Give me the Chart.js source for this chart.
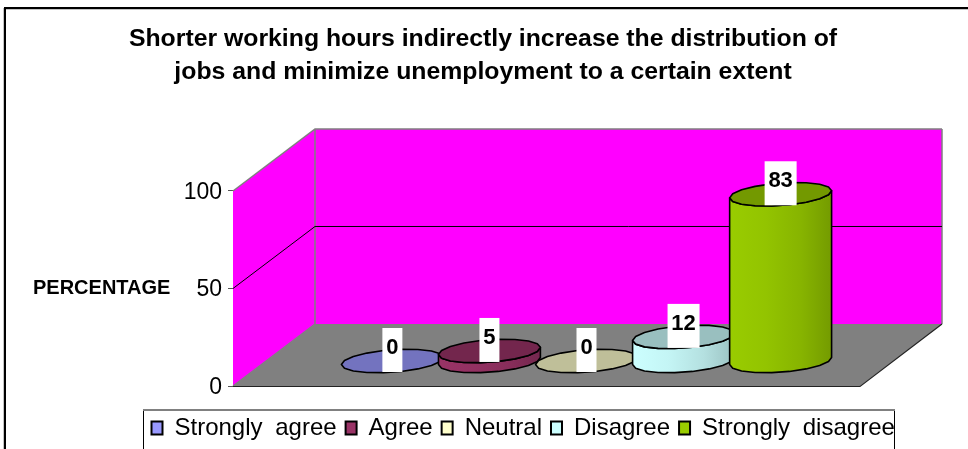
<!DOCTYPE html>
<html><head><meta charset="utf-8">
<style>html,body{margin:0;padding:0;background:#fff;overflow:hidden}canvas{display:block}</style>
<script src="https://cdn.jsdelivr.net/npm/chart.js@4"></script>
</head><body><canvas id="c" width="968" height="449"></canvas>
<script>
const categories = ["Response"];
const seriesNames = ["Strongly agree","Agree","Neutral","Disagree","Strongly disagree"];
const seriesValues = [0,5,0,12,83];
const seriesColors = ["#9999ff","#993366","#ffffcc","#ccffff","#99cc00"];
const yTicks = [0,50,100];
const titleLines = ["Shorter working hours indirectly increase the distribution of","jobs and minimize unemployment to a certain extent"];
const yAxisLabel = "PERCENTAGE";

const FONT = '"Liberation Sans", Arial, sans-serif';
const DEPTH = {x:82,y:-62};
const CYL = {shiftX:40, baseY:25, ratio:0.19, stretch:1.03, N:18};
const LEGEND_WORD_GAP = "6px";

function shade(hex,f){
  const n=parseInt(hex.slice(1),16);
  return `rgb(${Math.round((n>>16&255)*f)},${Math.round((n>>8&255)*f)},${Math.round((n&255)*f)})`;
}
function ringPt(cx,cy,A,B,C,t){return [cx+A*Math.cos(t)+B*Math.sin(t), cy-C*Math.sin(t)];}

function cylGeom(chart,i){
  const el=chart.getDatasetMeta(i).data[0];
  const y0=chart.scales.y.getPixelForValue(0);
  const h=(y0-el.y)*CYL.stretch;
  return {cx:el.x+CYL.shiftX, by:y0-CYL.baseY, h, A:el.width/2, B:DEPTH.x*CYL.ratio, C:-DEPTH.y*CYL.ratio};
}
function drawCylinder(chart,i){
  const ctx=chart.ctx,g=cylGeom(chart,i),col=seriesColors[i];
  const {cx,by,h,A,B,C}=g, ty=by-h, a0=Math.atan2(B,A), R=Math.hypot(A,B);
  ctx.save();
  ctx.lineWidth=1.6;ctx.strokeStyle="#000";ctx.lineJoin="round";
  if(h>0.5){
    const gr=ctx.createLinearGradient(cx-R,0,cx+R,0);
    gr.addColorStop(0,shade(col,1));gr.addColorStop(.35,shade(col,.96));
    gr.addColorStop(.7,shade(col,.88));gr.addColorStop(1,shade(col,.76));
    ctx.beginPath();
    for(let k=0;k<=CYL.N/2;k++){
      const t=Math.PI+a0+k*(2*Math.PI/CYL.N);
      const p=ringPt(cx,by,A,B,C,t);k?ctx.lineTo(p[0],p[1]):ctx.moveTo(p[0],p[1]);
    }
    for(let k=CYL.N/2;k>=0;k--){
      const t=Math.PI+a0+k*(2*Math.PI/CYL.N);
      const p=ringPt(cx,ty,A,B,C,t);ctx.lineTo(p[0],p[1]);
    }
    ctx.closePath();ctx.fillStyle=gr;ctx.fill();ctx.stroke();
  }
  ctx.beginPath();
  for(let k=0;k<CYL.N;k++){
    const t=a0+k*(2*Math.PI/CYL.N);
    const p=ringPt(cx,ty,A,B,C,t);k?ctx.lineTo(p[0],p[1]):ctx.moveTo(p[0],p[1]);
  }
  ctx.closePath();ctx.fillStyle=shade(col,.75);ctx.fill();ctx.stroke();
  ctx.restore();
}
const scenePlugin={
  id:"scene",
  beforeLayout(chart){chart.ctx.wordSpacing=LEGEND_WORD_GAP;},
  afterLayout(chart){
    chart.ctx.wordSpacing="0px";
    const lg=chart.legend;
    lg.left=142.5;lg.right=968;lg.top=407;
    chart.titleBlock.left=0;chart.titleBlock.right=966;
    if(!lg._wrapped){
      const orig=lg.draw.bind(lg);
      lg.draw=function(a){chart.ctx.save();chart.ctx.wordSpacing=LEGEND_WORD_GAP;orig(a);chart.ctx.restore();};
      lg._wrapped=true;
    }
  },
  beforeDraw(chart){
    const ctx=chart.ctx;
    ctx.save();
    ctx.fillStyle="#fff";ctx.fillRect(0,0,968,449);
    ctx.fillStyle="#c4c4c4";
    ctx.fillRect(3,8,1,441);ctx.fillRect(6,9,962,1);
    ctx.fillStyle="#000";
    ctx.fillRect(4,7,2,442);ctx.fillRect(4,7,964,2);
    // legend frame
    ctx.fillRect(143,410,1,39);ctx.fillRect(894,410,1,39);
    ctx.fillStyle="#808080";ctx.fillRect(143,409,752,2);
    ctx.restore();
  },
  beforeDatasetsDraw(chart){
    const ctx=chart.ctx,{left:l,right:r}=chart.chartArea,ys=chart.scales.y;
    const y0=ys.getPixelForValue(yTicks[0]),yT=ys.getPixelForValue(yTicks[yTicks.length-1]);
    const dx=DEPTH.x,dy=DEPTH.y;
    ctx.save();
    // floor
    ctx.fillStyle="#808080";
    ctx.beginPath();ctx.moveTo(l,y0);ctx.lineTo(r,y0);ctx.lineTo(r+dx,y0+dy);ctx.lineTo(l+dx,y0+dy);ctx.closePath();ctx.fill();
    // walls
    ctx.fillStyle="#ff00ff";
    ctx.fillRect(l+dx,yT+dy,r-l,y0-yT);
    ctx.beginPath();ctx.moveTo(l,yT);ctx.lineTo(l+dx,yT+dy);ctx.lineTo(l+dx,y0+dy);ctx.lineTo(l,y0);ctx.closePath();ctx.fill();
    // wall edges
    ctx.strokeStyle="#808080";ctx.lineWidth=1.5;
    ctx.beginPath();
    ctx.moveTo(l,yT);ctx.lineTo(l+dx,yT+dy);ctx.lineTo(r+dx,yT+dy);
    ctx.moveTo(l+dx,yT+dy);ctx.lineTo(l+dx,y0+dy);
    ctx.moveTo(l,y0);ctx.lineTo(l+dx,y0+dy);
    ctx.moveTo(r+dx,yT+dy);ctx.lineTo(r+dx,y0+dy);
    ctx.stroke();
    // gridlines
    ctx.strokeStyle="#000";ctx.lineWidth=1;
    yTicks.slice(1,-1).forEach(v=>{
      const y=ys.getPixelForValue(v);
      ctx.beginPath();ctx.moveTo(l,y);ctx.lineTo(l+dx,y+dy);ctx.lineTo(r+dx,y+dy);ctx.stroke();
    });
    // front floor edges
    ctx.strokeStyle="#222";ctx.lineWidth=1.2;
    ctx.beginPath();ctx.moveTo(l,y0+.5);ctx.lineTo(r,y0+.5);ctx.lineTo(r+dx,y0+dy);ctx.stroke();
    ctx.restore();
    seriesValues.forEach((_,i)=>drawCylinder(chart,i));
  },
  beforeDatasetDraw(){return false;},
  afterDatasetsDraw(chart){
    const ctx=chart.ctx;
    ctx.save();
    ctx.textAlign="center";ctx.textBaseline="middle";
    ctx.font="bold 22px "+FONT;
    seriesValues.forEach((v,i)=>{
      const g=cylGeom(chart,i),s=String(v),w=s.length>1?32:20,cy=g.by-g.h-11;
      ctx.fillStyle="#fff";ctx.fillRect(g.cx-w/2,cy-22,w,44);
      ctx.fillStyle="#000";ctx.fillText(s,g.cx,cy-2);
    });
    ctx.font="bold 20px "+FONT;ctx.textAlign="left";
    ctx.fillText(yAxisLabel,33,chart.scales.y.getPixelForValue(50));
    ctx.restore();
  }
};

new Chart(document.getElementById("c"),{
  type:"bar",
  data:{labels:categories,datasets:seriesNames.map((n,i)=>({
    label:n,data:[seriesValues[i]],backgroundColor:seriesColors[i],borderColor:"#000",borderWidth:2,
    barPercentage:1,categoryPercentage:0.774
  }))},
  options:{
    responsive:false,animation:false,
    layout:{padding:{left:0,right:108,top:0,bottom:0}},
    plugins:{
      tooltip:{enabled:false},
      title:{display:true,text:titleLines,color:"#000",font:{family:FONT,size:24.8,weight:"bold",lineHeight:1.31},padding:{top:23,bottom:103}},
      legend:{display:true,position:"bottom",align:"start",
        labels:{color:"#000",font:{family:FONT,size:24},boxWidth:11,boxHeight:13,padding:9}}
    },
    scales:{
      x:{display:true,grid:{display:false},border:{display:false},ticks:{display:false},afterFit(s){s.height=20;}},
      y:{min:0,max:100,afterFit(s){s.width=233;},
        afterBuildTicks(s){s.ticks=yTicks.map(v=>({value:v}));},
        grid:{drawOnChartArea:false,drawTicks:true,tickLength:5,color:"#555"},
        border:{display:true,color:"#333",width:1},
        ticks:{color:"#000",font:{family:FONT,size:23},padding:6,labelOffset:1.5}}
    }
  },
  plugins:[scenePlugin]
});
</script></body></html>
